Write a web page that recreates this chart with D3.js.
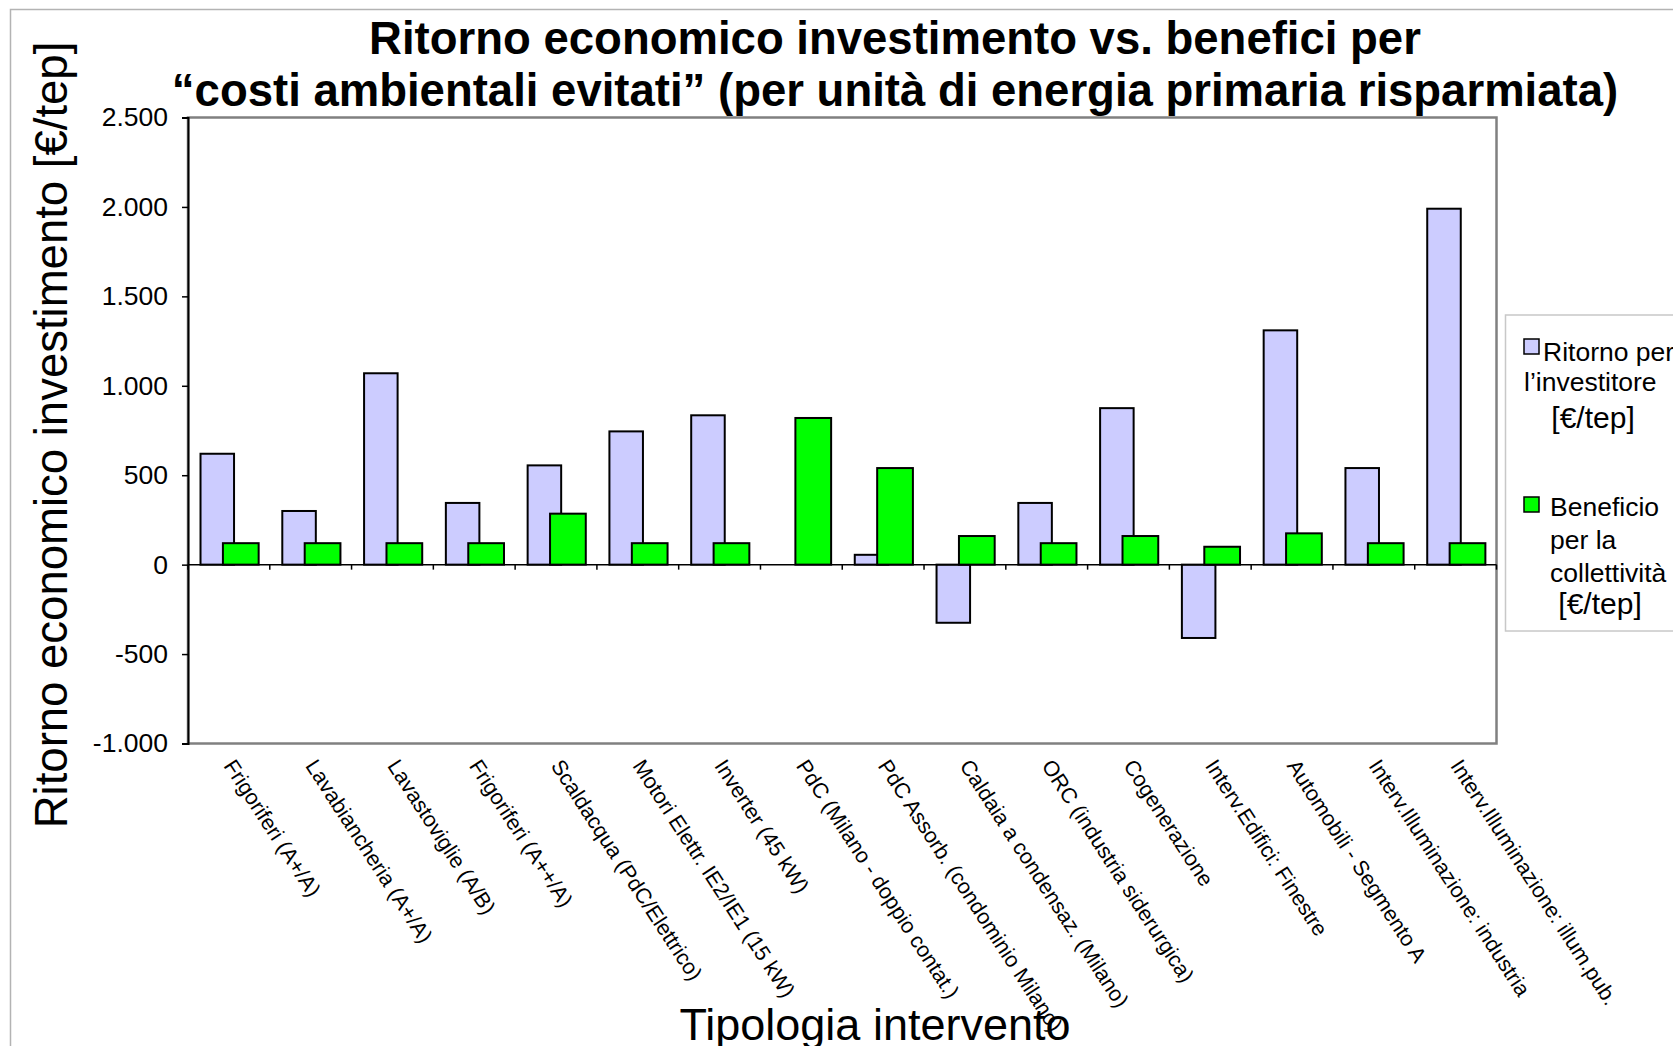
<!DOCTYPE html>
<html>
<head>
<meta charset="utf-8">
<script src="https://cdn.jsdelivr.net/npm/d3@7"></script>
<style>
  html, body { margin: 0; padding: 0; background: #fff; }
  svg { display: block; font-family: "Liberation Sans", Arial, sans-serif; }
</style>
</head>
<body>
<svg id="chart" width="1673" height="1046"></svg>
<script>
const categories = [
  "Frigoriferi (A+/A)",
  "Lavabiancheria (A+/A)",
  "Lavastoviglie (A/B)",
  "Frigoriferi (A++/A)",
  "Scaldacqua (PdC/Elettrico)",
  "Motori Elettr. IE2/IE1 (15 kW)",
  "Inverter (45 kW)",
  "PdC (Milano - doppio contat.)",
  "PdC Assorb. (condominio Milano)",
  "Caldaia a condensaz. (Milano)",
  "ORC (industria siderurgica)",
  "Cogenerazione",
  "Interv.Edifici: Finestre",
  "Automobili - Segmento A",
  "Interv.Illuminazione: industria",
  "Interv.Illuminazione: illum.pub."
];
const ritornoInvestitore = [620, 300, 1070, 345, 555, 745, 835, 0, 55, -325, 345, 875, -410, 1310, 540, 1990];
const beneficioCollettivita = [120, 120, 120, 120, 285, 120, 120, 820, 540, 160, 120, 160, 100, 175, 120, 120];
const yTicks = [-1000, -500, 0, 500, 1000, 1500, 2000, 2500];
const titleLines = ["Ritorno economico investimento vs. benefici per",
  "\u201Ccosti ambientali evitati\u201D (per unit\u00E0 di energia primaria risparmiata)"];
const yTitle = "Ritorno economico investimento [\u20AC/tep]";
const xTitle = "Tipologia intervento";
const legendSeries = [
  {lines: ["Ritorno per", "l\u2019investitore", " [\u20AC/tep]"]},
  {lines: ["Beneficio", "per la", "collettivit\u00E0", " [\u20AC/tep]"]}
];

const svg = d3.select("#chart");
const W = 1673, H = 1046;
const plot = {left: 188, right: 1496.5, top: 117.5, bottom: 743.5};
const colors = ["#CCCCFF", "#00FF00"];

// outer chart border (light gray)
svg.append("path")
  .attr("d", `M10.5,${H} L10.5,9.5 L${W},9.5`)
  .attr("fill", "none").attr("stroke", "#b3b3b3").attr("stroke-width", 1.5);

const x = d3.scaleBand().domain(categories).range([plot.left, plot.right]).padding(0);
const y = d3.scaleLinear().domain([-1000, 2500]).range([plot.bottom, plot.top]);
const bw = x.bandwidth();

// plot area border
svg.append("rect")
  .attr("x", plot.left).attr("y", plot.top)
  .attr("width", plot.right - plot.left).attr("height", plot.bottom - plot.top)
  .attr("fill", "#fff").attr("stroke", "#808080").attr("stroke-width", 2.5);

// bars
const blue = svg.append("g");
blue.selectAll("rect").data(categories).join("rect")
  .attr("x", (d) => x(d) + 0.153 * bw)
  .attr("width", 0.41 * bw)
  .attr("y", (d, i) => y(Math.max(0, ritornoInvestitore[i])))
  .attr("height", (d, i) => Math.abs(y(ritornoInvestitore[i]) - y(0)))
  .attr("fill", colors[0]).attr("stroke", "#000").attr("stroke-width", 2)
  .style("display", (d, i) => ritornoInvestitore[i] === 0 ? "none" : null);

const green = svg.append("g");
green.selectAll("rect").data(categories).join("rect")
  .attr("x", (d) => x(d) + 0.427 * bw)
  .attr("width", 0.437 * bw)
  .attr("y", (d, i) => y(Math.max(0, beneficioCollettivita[i])))
  .attr("height", (d, i) => Math.abs(y(beneficioCollettivita[i]) - y(0)))
  .attr("fill", colors[1]).attr("stroke", "#000").attr("stroke-width", 2);

// zero line with category ticks
const zero = y(0);
svg.append("line").attr("x1", plot.left).attr("x2", plot.right)
  .attr("y1", zero).attr("y2", zero).attr("stroke", "#000").attr("stroke-width", 1.5);
const bounds = categories.map(c => x(c)).concat([plot.right]);
svg.append("g").selectAll("line").data(bounds).join("line")
  .attr("x1", d => d).attr("x2", d => d)
  .attr("y1", zero).attr("y2", zero + 5)
  .attr("stroke", "#000").attr("stroke-width", 1.5);

// y axis
const itLocale = d3.formatLocale({decimal: ",", thousands: ".", grouping: [3], currency: ["\u20AC", ""], minus: "-"});
const fmt = itLocale.format(",d");
const yAxis = svg.append("g").attr("transform", `translate(${plot.left},0)`)
  .call(d3.axisLeft(y).tickValues(yTicks).tickFormat(fmt).tickSize(6).tickPadding(14));
yAxis.select(".domain").attr("stroke", "#000").attr("stroke-width", 2);
yAxis.selectAll(".tick line").attr("stroke", "#000").attr("stroke-width", 1.5);
yAxis.selectAll(".tick text").attr("font-size", 26.5).attr("fill", "#000")
  .attr("font-family", "Liberation Sans, Arial, sans-serif");

// x labels (rotated)
svg.append("g").selectAll("text").data(categories).join("text")
  .attr("transform", d => `translate(${x(d) + bw / 2 + 7},${plot.bottom + 14}) rotate(57)`)
  .attr("dy", "0.71em")
  .attr("font-size", 21.5).attr("fill", "#000")
  .text(d => d);

// title
svg.append("g").selectAll("text").data(titleLines).join("text")
  .attr("x", 895).attr("y", (d, i) => i === 0 ? 54 : 106)
  .attr("text-anchor", "middle").attr("font-size", 45.5).attr("font-weight", "bold")
  .attr("fill", "#000").text(d => d);

// axis titles
svg.append("text").attr("transform", "translate(67,435) rotate(-90)")
  .attr("text-anchor", "middle").attr("font-size", 45.5).attr("fill", "#000").text(yTitle);
svg.append("text").attr("x", 875).attr("y", 1040)
  .attr("text-anchor", "middle").attr("font-size", 45).attr("fill", "#000").text(xTitle);

// legend
const lg = svg.append("g");
lg.append("rect").attr("x", 1505.5).attr("y", 315).attr("width", 200).attr("height", 316)
  .attr("fill", "#fff").attr("stroke", "#c8c8c8").attr("stroke-width", 1.5);
const legendPos = [
  {sq: [1524, 339], lines: [[1543, 361, 26.5], [1524, 391, 26.5], [1543, 428, 30]]},
  {sq: [1524, 497], lines: [[1550, 516, 26.5], [1550, 549, 26.5], [1550, 582, 26.5], [1550, 614, 30]]}
];
legendSeries.forEach((s, k) => {
  const p = legendPos[k];
  lg.append("rect").attr("x", p.sq[0]).attr("y", p.sq[1]).attr("width", 15).attr("height", 15)
    .attr("fill", colors[k]).attr("stroke", "#000").attr("stroke-width", 1.5);
  s.lines.forEach((t, j) => {
    lg.append("text").attr("x", p.lines[j][0]).attr("y", p.lines[j][1])
      .attr("font-size", p.lines[j][2]).attr("fill", "#000")
      .attr("xml:space", "preserve").style("white-space", "pre").text(t);
  });
});
</script>
</body>
</html>
